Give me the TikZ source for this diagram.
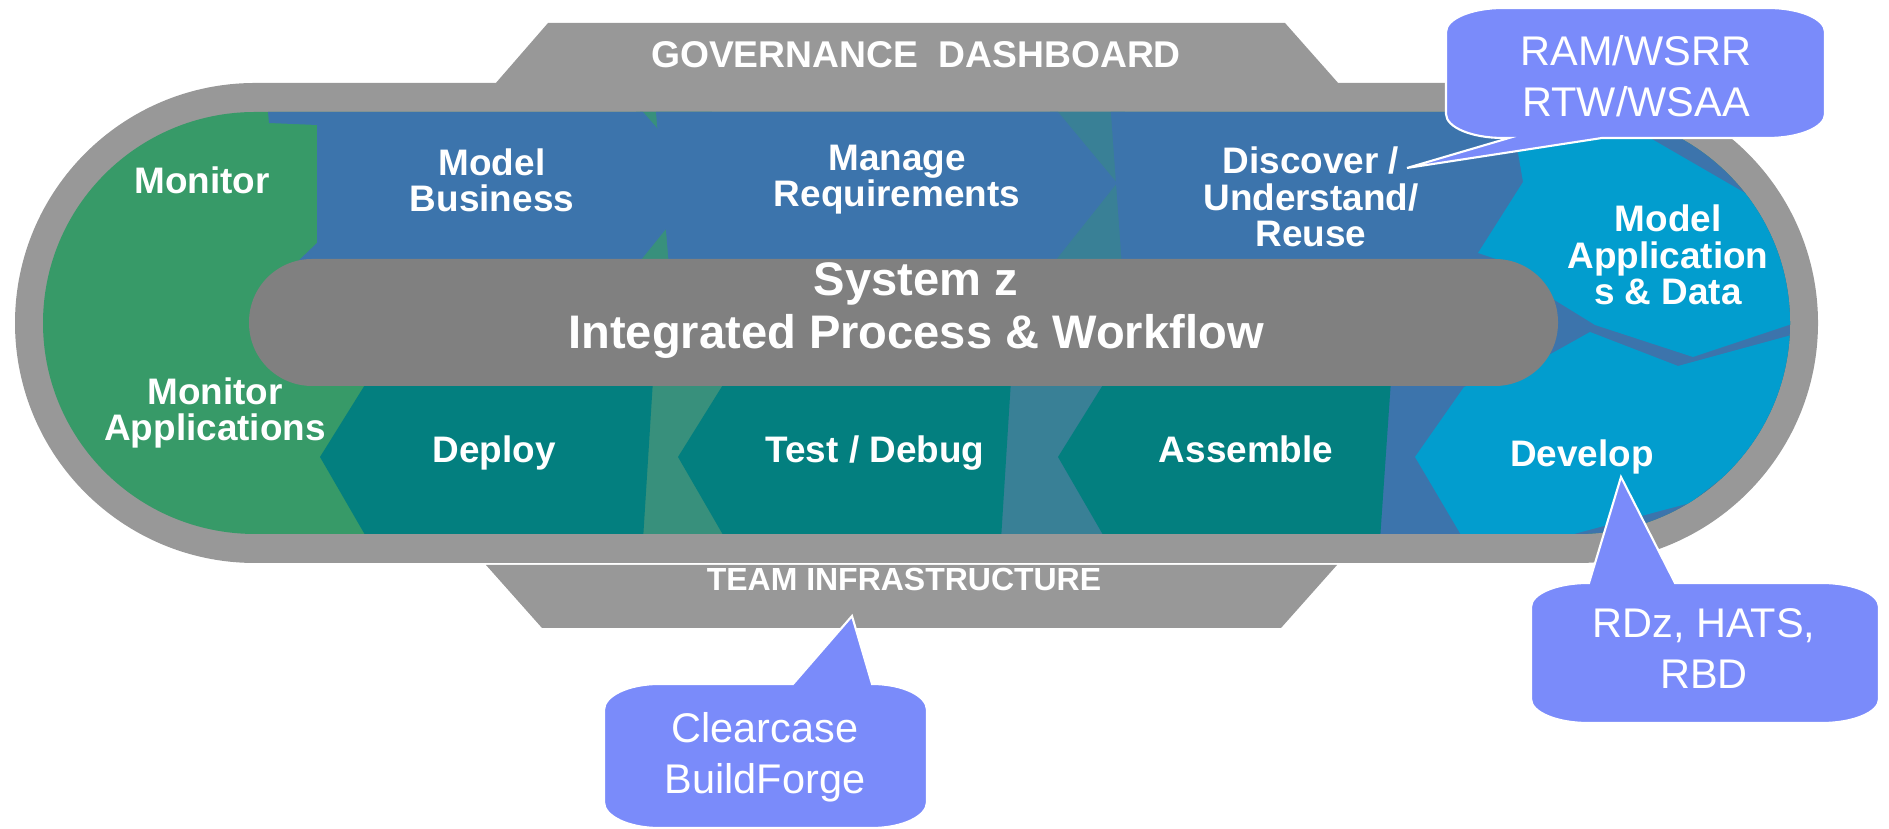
\documentclass[tikz,border=0pt]{standalone}
\usepackage{fontspec}
\setmainfont{Liberation Sans}
\definecolor{ringgray}{HTML}{989898}
\definecolor{bargray}{HTML}{808080}
\definecolor{mongreen}{HTML}{379A68}
\definecolor{modblue}{HTML}{3C74AC}
\definecolor{buildteal}{HTML}{037F7F}
\definecolor{seamgreen}{HTML}{38907C}
\definecolor{seamblue}{HTML}{398096}
\definecolor{devcyan}{HTML}{029DCE}
\definecolor{toolblue}{HTML}{7A8BFA}
\tikzset{
	stage/.style={text=white,inner sep=0pt,align=center,font=\bfseries\fontsize{10.5pt}{10.3pt}\selectfont},
	hub/.style={text=white,inner sep=0pt,align=center,font=\bfseries\fontsize{13.4pt}{15.1pt}\selectfont},
	tabtext/.style={text=white,inner sep=0pt,font=\bfseries\fontsize{#1}{#1}\selectfont},
	tool/.style={fill=toolblue,draw=white,line width=0.6pt},
	tooltext/.style={text=white,inner sep=0pt,align=center,font=\fontsize{11.8pt}{14.5pt}\selectfont}
}
\begin{document}
\begin{tikzpicture}[x=0.1mm,y=-0.1mm]
	\useasboundingbox (0,0) rectangle (1889,829);

	\fill[ringgray] (255,83) -- (1578,83) arc[start angle=-90,end angle=90,x radius=240,y radius=240] -- (255,563) arc[start angle=90,end angle=270,x radius=240,y radius=240] -- cycle;
	\fill[ringgray] (548,23) -- (1285,23) -- (1339,84) -- (495,84) -- cycle;
	\fill[ringgray] (486,565) -- (1337,565) -- (1281,628) -- (542,628) -- cycle;

	\begin{scope}
		\clip (255,112) -- (1578,112) arc[start angle=-90,end angle=90,x radius=212,y radius=211] -- (255,534) arc[start angle=90,end angle=270,x radius=212,y radius=211] -- cycle;
		\fill[mongreen] (0,100) rectangle (1889,550);
		\fill[modblue] (640,100) rectangle (1889,550);
		\fill[seamgreen] (636,100) rectangle (712,262);
		\fill[seamblue] (1050,100) rectangle (1125,262);
		\fill[seamgreen] (636,380) rectangle (730,540);
		\fill[seamblue] (995,380) rectangle (1110,540);

		\fill[modblue] (268,112) -- (643,112) -- (704,182) -- (636,266) -- (293,266) -- (317,243) -- (317,125) -- (269,123) -- cycle;
		\fill[modblue] (656,112) -- (1058,112) -- (1117,183) -- (1051,266) -- (669,266) -- cycle;
		\fill[modblue] (1110,100) -- (1200,100) -- (1200,266) -- (1122,266) -- cycle;

		\fill[buildteal] (368,380) -- (320,457) -- (368,540) -- (643,540) -- (653,380) -- cycle;
		\fill[buildteal] (726,380) -- (678,457) -- (726,540) -- (1001,540) -- (1011,380) -- cycle;
		\fill[buildteal] (1106,380) -- (1058,457) -- (1106,540) -- (1380,540) -- (1391,380) -- cycle;

		\fill[devcyan] (1509,100) -- (1600,100) -- (1650,138) -- (1745,193) -- (1810,260) -- (1810,318) -- (1693,357) -- (1595,325) -- (1548,296) -- (1505,262) -- (1478,253) -- (1523,182) -- cycle;
		\fill[devcyan] (1415,457) -- (1464,387) -- (1540,360) -- (1590,332) -- (1678,366) -- (1810,330) -- (1810,440) -- (1722,478) -- (1690,503) -- (1574,534) -- (1574,540) -- (1464,540) -- cycle;
	\end{scope}

	\fill[bargray,rounded corners=6.3mm] (249,259) rectangle (1558,386);

	\node[tabtext=10.6pt] (govern) at (916,55) {GOVERNANCE~~DASHBOARD};
	\node[tabtext=9.1pt] (teaminfra) at (904,580) {TEAM INFRASTRUCTURE};
	\node[hub] (sysz) at (916,311) {System z\\Integrated Process \& Workflow};

	\node[stage] (monitor) at (202,180) {Monitor};
	\node[stage] (modelbiz) at (492,180) {Model\\Business};
	\node[stage] (managereq) at (897,180) {Manage\\Requirements};
	\node[stage] (discover) at (1311,197) {Discover /\\Understand/\\Reuse};
	\node[stage] (modelapp) at (1668,255) {Model\\Application\\s \& Data};
	\node[stage] (monitorapp) at (215,413) {Monitor\\Applications};
	\node[stage] (deploy) at (494,453) {Deploy};
	\node[stage] (testdebug) at (875,453) {Test / Debug};
	\node[stage] (assemble) at (1246,449) {Assemble};
	\node[stage] (develop) at (1582,457) {Develop};

	\coordinate (ramtip) at (1407,168);
	\coordinate (rdztip) at (1621,477);
	\coordinate (cctip) at (852,616);

	\draw[tool] (1509,138) -- (ramtip) -- (1602,138) -- (1768,138) arc[start angle=90,end angle=0,x radius=57,y radius=24] -- (1825,32) arc[start angle=0,end angle=-90,x radius=57,y radius=24] -- (1503,8) arc[start angle=270,end angle=180,x radius=57,y radius=24] -- (1446,114) arc[start angle=180,end angle=90,x radius=57,y radius=24] -- cycle;
	\draw[tool] (1589,583) -- (rdztip) -- (1675,583) -- (1822,583) arc[start angle=-90,end angle=0,x radius=57,y radius=24] -- (1879,699) arc[start angle=0,end angle=90,x radius=57,y radius=24] -- (1588,723) arc[start angle=90,end angle=180,x radius=57,y radius=24] -- (1531,607) arc[start angle=180,end angle=270,x radius=57,y radius=24] -- cycle;
	\draw[tool] (793,684) -- (cctip) -- (872,684) arc[start angle=-90,end angle=0,x radius=55,y radius=26] -- (927,802) arc[start angle=0,end angle=90,x radius=55,y radius=26] -- (659,828) arc[start angle=90,end angle=180,x radius=55,y radius=26] -- (604,710) arc[start angle=180,end angle=270,x radius=55,y radius=26] -- cycle;

	\node[tooltext] (ramtxt) at (1636,76) {RAM/WSRR\\RTW/WSAA};
	\node[tooltext] (rdztxt) at (1704,649) {RDz, HATS,\\RBD};
	\node[tooltext] (cctxt) at (765,757) {Clearcase\\BuildForge};
\end{tikzpicture}
\end{document}
